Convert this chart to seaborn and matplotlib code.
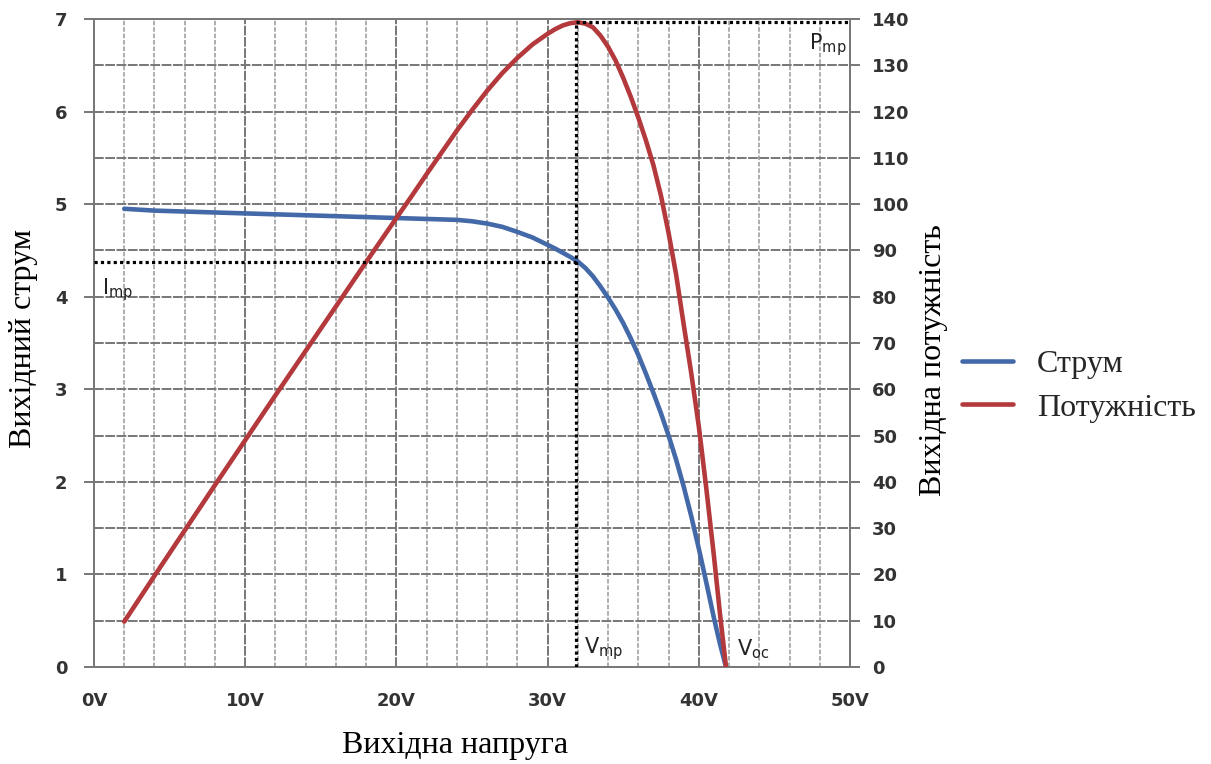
import matplotlib
matplotlib.use("Agg")
import numpy as np
import pandas as pd
import seaborn as sns
import matplotlib.pyplot as plt
from matplotlib.ticker import MultipleLocator, FixedLocator
from matplotlib.font_manager import FontProperties
from matplotlib.lines import Line2D

# ---------------- data ----------------
voltage = [2, 4, 6, 8, 10, 12, 14, 16, 18, 20, 21, 22, 23, 24, 25, 26, 27, 28,
           29, 30, 30.5, 31, 31.5, 32, 32.5, 33, 33.5, 34, 34.5, 35, 35.5, 36,
           36.5, 37, 37.5, 38, 38.5, 39, 39.5, 40, 40.5, 41, 41.4, 41.8]
current = [4.95, 4.93, 4.92, 4.91, 4.90, 4.89, 4.88, 4.87, 4.86, 4.85, 4.845,
           4.84, 4.835, 4.83, 4.815, 4.79, 4.755, 4.70, 4.64, 4.56, 4.52, 4.475,
           4.43, 4.38, 4.31, 4.22, 4.11, 3.99, 3.86, 3.715, 3.55, 3.37, 3.17,
           2.96, 2.74, 2.50, 2.24, 1.95, 1.63, 1.28, 0.91, 0.53, 0.25, 0.0]
power = [9.8, 19.7, 29.5, 39.3, 49.0, 58.7, 68.3, 77.9, 87.5, 97.0, 101.7,
         106.5, 111.2, 115.9, 120.3, 124.5, 128.3, 131.6, 134.5, 136.8, 137.8,
         138.6, 139.1, 139.3, 139.0, 138.2, 136.4, 134.0, 131.0, 127.3, 123.2,
         118.7, 113.8, 108.4, 101.8, 93.8, 84.8, 74.0, 63.5, 52.0, 38.5, 24.0,
         11.5, 0.0]

v_mp = 31.85      # voltage at max power
i_mp = 4.38       # current at max power
p_mp = 139.3      # max power

x_ticks = [0, 10, 20, 30, 40, 50]
x_tick_labels = ["0V", "10V", "20V", "30V", "40V", "50V"]
y_left_ticks = [0, 1, 2, 3, 4, 5, 6, 7]
y_right_ticks = [0, 10, 20, 30, 40, 50, 60, 70, 80, 90, 100, 110, 120, 130, 140]

series_names = ["Струм", "Потужність"]
x_label = "Вихідна напруга"
y_left_label = "Вихідний струм"
y_right_label = "Вихідна потужність"

# ---------------- styling ----------------
blue = "#4469a8"
red = "#b3393c"
grid_major = "#777777"
grid_minor = "#999999"
tick_col = "#333333"

sns.set_theme(style="white")
plt.rcParams["font.family"] = ["DejaVu Sans"]
plt.rcParams["mathtext.default"] = "regular"

fig = plt.figure(figsize=(12.11, 7.64), dpi=100)
ax = fig.add_axes([94 / 1211, 1 - 667 / 764, 756 / 1211, 648 / 764])

df = pd.DataFrame({"V": voltage, "I": current, "P": power})

sns.lineplot(data=df, x="V", y="I", ax=ax, color=blue, linewidth=3.3,
             estimator=None, legend=False, zorder=3)
ax.set_xlim(0, 50)
ax.set_ylim(0, 7)

# grid
ax.xaxis.set_major_locator(FixedLocator(x_ticks))
ax.xaxis.set_minor_locator(MultipleLocator(2))
ax.yaxis.set_major_locator(FixedLocator(y_left_ticks))
ax.yaxis.set_minor_locator(MultipleLocator(0.5))
ax.grid(which="major", axis="x", color=grid_major, linewidth=1.4,
        linestyle=(0, (5, 0.8)))
ax.grid(which="minor", axis="x", color=grid_minor, linewidth=1.1,
        linestyle=(0, (3, 1.2)))
ax.grid(which="both", axis="y", color=grid_major, linewidth=1.4,
        linestyle=(0, (5, 0.8)))
ax.set_axisbelow(True)
for s in ax.spines.values():
    s.set_color(grid_major)
    s.set_linewidth(1.4)

ax.set_xticklabels(x_tick_labels)
ax.tick_params(axis="both", which="major", length=7, width=1.4,
               color=grid_major, labelsize=13, labelcolor=tick_col)
ax.tick_params(axis="both", which="minor", length=0)
ax.tick_params(axis="y", pad=12)
ax.tick_params(axis="x", pad=11)
for lab in ax.get_xticklabels() + ax.get_yticklabels():
    lab.set_fontweight("bold")
ax.set_xlabel("")
ax.set_ylabel("")

# secondary axis: power
ax2 = ax.twinx()
sns.lineplot(data=df, x="V", y="P", ax=ax2, color=red, linewidth=3.3,
             estimator=None, legend=False, zorder=3)
ax2.set_ylim(0, 140)
ax2.set_xlim(0, 50)
ax2.yaxis.set_major_locator(FixedLocator(y_right_ticks))
ax2.tick_params(axis="y", which="major", length=7, width=1.4,
                color=grid_major, labelsize=13, labelcolor=tick_col, pad=9)
for lab in ax2.get_yticklabels():
    lab.set_fontweight("bold")
ax2.set_ylabel("")
ax2.set_xlabel("")
for s in ax2.spines.values():
    s.set_visible(False)
ax2.grid(False)

# dotted max-power guides
dot = dict(color="black", linewidth=2.3, linestyle=(0, (1, 1)), zorder=5)
ax2.plot([0, v_mp], [i_mp * 20, i_mp * 20], **dot)
ax2.plot([v_mp, v_mp], [0, p_mp], **dot)
ax2.plot([v_mp, 50], [p_mp, p_mp], **dot)

# annotations
ann = dict(fontsize=15, color="#222222", family="DejaVu Sans")
ax.text(0.55, 4.02, "I$_{mp}$", ha="left", va="baseline", **ann)
ax2.text(49.8, 133.5, "P$_{mp}$", ha="right", va="baseline", **ann)
ax.text(32.4, 0.15, "V$_{mp}$", ha="left", va="baseline", **ann)
ax.text(42.5, 0.13, "V$_{oc}$", ha="left", va="baseline", **ann)

# axis titles (serif)
serif = FontProperties(family="Liberation Serif", size=23)
fig.text(455 / 1211, 1 - 745 / 764, x_label, ha="center", va="center",
         fontproperties=serif, color="black")
fig.text(24 / 1211, 1 - 338 / 764, y_left_label, ha="center", va="center",
         rotation=90, fontproperties=serif, color="black")
fig.text(933 / 1211, 1 - 360 / 764, y_right_label, ha="center", va="center",
         rotation=90, fontproperties=serif, color="black")

# legend
handles = [Line2D([], [], color=blue, linewidth=3.3),
           Line2D([], [], color=red, linewidth=3.3)]
fig.legend(handles, series_names, loc="center left",
           bbox_to_anchor=(962 / 1211, 1 - 386 / 764), frameon=False,
           prop=serif, handlelength=1.6, handletextpad=0.75,
           labelspacing=0.45, borderpad=0, borderaxespad=0)

fig.savefig("out.png", dpi=100)
